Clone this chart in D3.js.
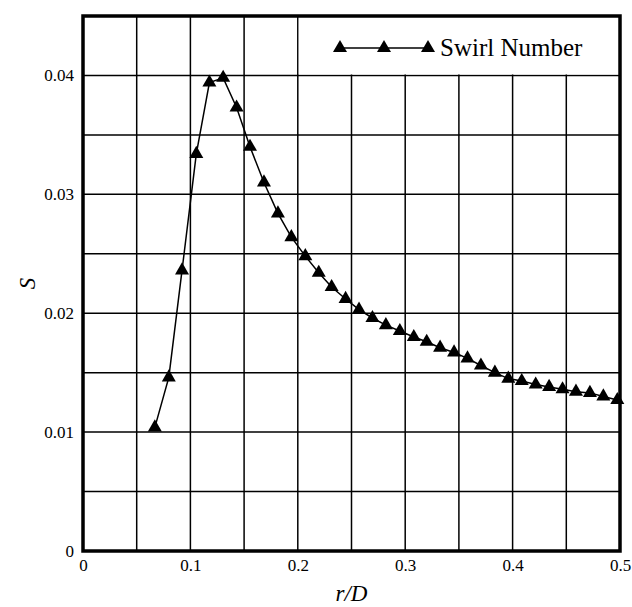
<!DOCTYPE html>
<html>
<head>
<meta charset="utf-8">
<script src="https://cdn.jsdelivr.net/npm/d3@7"></script>
<style>
  body { margin: 0; background: #fff; }
  svg text { font-family: "Liberation Serif", "Times New Roman", serif; fill: #000; }
</style>
</head>
<body>
<svg id="chart" width="632" height="607"></svg>
<script>
// r/D positions
var rD = [0.0669, 0.0799, 0.0922, 0.1055, 0.1177, 0.1305, 0.1430, 0.1555, 0.1685, 0.1815,
          0.1940, 0.2070, 0.2195, 0.2315, 0.2445, 0.2570, 0.2695, 0.2820, 0.2950, 0.3080,
          0.3200, 0.3325, 0.3455, 0.3580, 0.3705, 0.3835, 0.3960, 0.4085, 0.4215, 0.4340,
          0.4465, 0.4590, 0.4720, 0.4845, 0.4975];
// swirl number S
var swirl = [0.0104, 0.0146, 0.0236, 0.0334, 0.0394, 0.0398, 0.0373, 0.0340, 0.0310, 0.0284,
             0.0264, 0.0248, 0.0234, 0.0222, 0.0212, 0.0203, 0.0196, 0.0190, 0.0185, 0.0180,
             0.0176, 0.0171, 0.0167, 0.0162, 0.0156, 0.0150, 0.0145, 0.0143, 0.0140, 0.0138,
             0.0136, 0.0134, 0.0133, 0.0130, 0.0127];

var xTicks = [0, 0.1, 0.2, 0.3, 0.4, 0.5];
var yTicks = [0, 0.01, 0.02, 0.03, 0.04];
var xGrid = d3.range(0, 0.5001, 0.05);
var yGrid = d3.range(0, 0.0451, 0.005);
var seriesName = "Swirl Number";

var serif = '"Liberation Serif", "Times New Roman", serif';
var margin = {top: 16, right: 12, bottom: 56, left: 83};
var width = 632 - margin.left - margin.right,
    height = 607 - margin.top - margin.bottom;

var svg = d3.select("#chart");
var g = svg.append("g").attr("transform", "translate(" + margin.left + "," + margin.top + ")");

var x = d3.scaleLinear().domain([0, 0.5]).range([0, width]);
var y = d3.scaleLinear().domain([0, 0.045]).range([height, 0]);

// grid
g.selectAll(".vgrid").data(xGrid).enter().append("line")
    .attr("x1", function(d){ return x(d); }).attr("x2", function(d){ return x(d); })
    .attr("y1", 0).attr("y2", height)
    .attr("stroke", "#000").attr("stroke-width", 1.5);
g.selectAll(".hgrid").data(yGrid).enter().append("line")
    .attr("x1", 0).attr("x2", width)
    .attr("y1", function(d){ return y(d); }).attr("y2", function(d){ return y(d); })
    .attr("stroke", "#000").attr("stroke-width", 1.5);

// legend box blanks the grid in the top right
g.append("rect")
    .attr("x", x(0.2) + 1).attr("y", 0)
    .attr("width", width - x(0.2) - 1).attr("height", y(0.04) - 1)
    .attr("fill", "#fff");

// axes
var xAxis = d3.axisBottom(x).tickValues(xTicks).tickSize(0).tickPadding(8)
    .tickFormat(function(d){ return d === 0 ? "0" : d3.format(".1f")(d); });
var yAxis = d3.axisLeft(y).tickValues(yTicks).tickSize(0).tickPadding(9)
    .tickFormat(function(d){ return d === 0 ? "0" : d3.format(".2f")(d); });

g.append("g").attr("transform", "translate(0," + height + ")").call(xAxis)
    .attr("font-family", serif).attr("font-size", 17)
    .call(function(s){ s.select(".domain").remove(); });
g.append("g").call(yAxis)
    .attr("font-family", serif).attr("font-size", 17)
    .call(function(s){ s.select(".domain").remove(); });

// frame
g.append("rect").attr("x", 0).attr("y", 0).attr("width", width).attr("height", height)
    .attr("fill", "none").attr("stroke", "#000").attr("stroke-width", 3.5);

// series
var pts = rD.map(function(d, i){ return [d, swirl[i]]; });
var line = d3.line().x(function(d){ return x(d[0]); }).y(function(d){ return y(d[1]); });
g.append("path").datum(pts).attr("d", line)
    .attr("fill", "none").attr("stroke", "#000").attr("stroke-width", 1.5);

var tri = d3.symbol().type(d3.symbolTriangle).size(85);
g.selectAll(".pt").data(pts).enter().append("path")
    .attr("d", tri)
    .attr("transform", function(d){ return "translate(" + x(d[0]) + "," + y(d[1]) + ")"; })
    .attr("fill", "#000");

// legend
var lg = g.append("g").attr("transform", "translate(" + (340 - margin.left) + "," + (48 - margin.top) + ")");
lg.append("line").attr("x1", 0).attr("x2", 88).attr("y1", 0).attr("y2", 0)
    .attr("stroke", "#000").attr("stroke-width", 1.5);
[0, 44, 88].forEach(function(px){
    lg.append("path").attr("d", tri).attr("transform", "translate(" + px + ",0)").attr("fill", "#000");
});
lg.append("text").attr("x", 100).attr("y", 8).attr("font-family", serif)
    .style("font-size", "25px").text(seriesName);

// axis titles
svg.append("text").attr("x", margin.left + width / 2).attr("y", 601)
    .attr("text-anchor", "middle").attr("font-family", serif)
    .style("font-size", "23px").style("font-style", "italic").text("r/D");
svg.append("text").attr("transform", "translate(35," + (margin.top + height / 2) + ") rotate(-90)")
    .attr("text-anchor", "middle").attr("font-family", serif)
    .style("font-size", "23px").style("font-style", "italic").text("S");
</script>
</body>
</html>
